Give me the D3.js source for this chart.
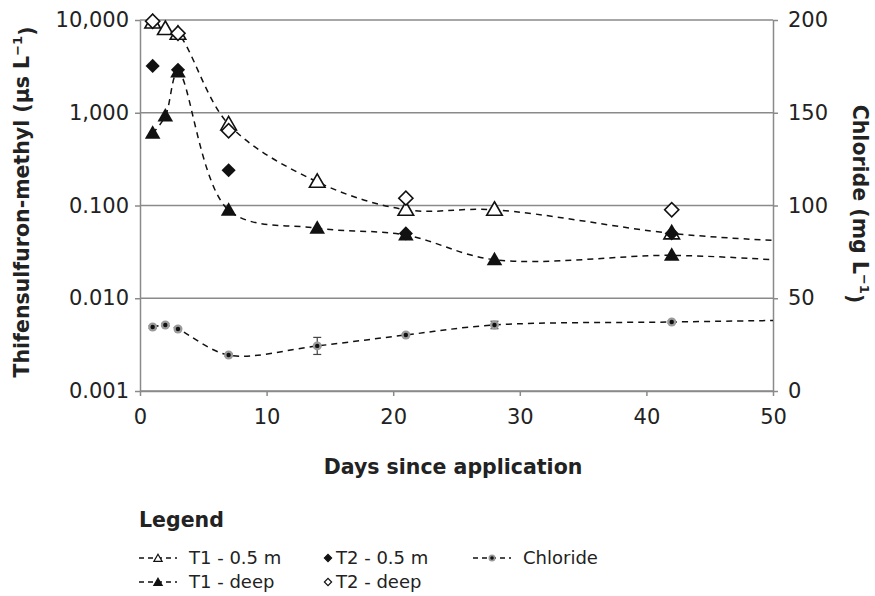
<!DOCTYPE html>
<html lang="en">
<head>
  <meta charset="UTF-8">
  <title>Thifensulfuron-methyl and chloride</title>
  <script src="https://d3js.org/d3.v7.min.js"></script>
  <style>
    body { margin: 0; background: #fff; }
    .chart text { font-family: "DejaVu Sans", sans-serif; fill: #222; }
    .tick text { font-size: 21px; }
    .title { font-weight: bold; font-size: 20.5px; }
    .legend-text { font-size: 18px; }
  </style>
</head>
<body>

<svg id="chart" class="chart" width="875" height="596"></svg>

<script>
  // Sampling days
  const days = [1, 2, 3, 7, 14, 21, 28, 42];

  // T1 series (µg/L, log axis) - both sampled every day
  const t1Shallow = [9.4, 8.0, 7.1, 0.75, 0.18, 0.09, 0.09, 0.05];
  const t1Deep = [0.6, 0.92, 2.75, 0.089, 0.057, 0.048, 0.026, 0.029];

  // T2 series, markers only
  const t2Days = [1, 3, 7, 21, 42];
  const t2Shallow = [3.2, 2.9, 0.24, 0.05, 0.05];
  const t2Deep = [9.7, 7.2, 0.64, 0.12, 0.09];

  // Chloride (mg/L, right axis) with error
  const chloride = [34.5, 35.6, 33.4, 19.4, 24.3, 30.2, 35.6, 37.2];
  const chlorideErr = [0.8, 0.8, 0.8, 0.8, 4.6, 0.8, 2.0, 0.8];

  // where the smoothed lines end (day 50)
  const tailDay = 50;
  const t1ShallowTail = 0.042;
  const t1DeepTail = 0.026;
  const chlorideTail = 38;

  // axis ticks
  const leftTicks = [0.001, 0.01, 0.1, 1, 10];
  const leftTickLabels = ["0.001", "0.010", "0.100", "1,000", "10,000"];
  const rightTicks = [0, 50, 100, 150, 200];
  const xTicks = [0, 10, 20, 30, 40, 50];

  const svg = d3.select("#chart");
  const plot = { left: 140, right: 773, top: 20, bottom: 391 };
  const gridColor = "#8a8a8a";

  const x = d3.scaleLinear().domain([0, 50]).range([plot.left, plot.right]);
  const yLog = d3.scaleLog().domain([0.001, 10]).range([plot.bottom, plot.top]);
  const yRight = d3.scaleLinear().domain([0, 200]).range([plot.bottom, plot.top]);

  // gridlines
  svg.append("g")
     .selectAll("line")
     .data(leftTicks)
     .join("line")
     .attr("x1", plot.left)
     .attr("x2", plot.right)
     .attr("y1", d => yLog(d))
     .attr("y2", d => yLog(d))
     .attr("stroke", gridColor)
     .attr("stroke-width", 1.5);

  // axes
  function styleAxis(g) {
    g.selectAll(".domain").attr("stroke", gridColor).attr("stroke-width", 1.5);
    g.selectAll(".tick line").attr("stroke", gridColor).attr("stroke-width", 1.5);
    g.selectAll(".tick text").attr("font-size", null).attr("font-family", null);
  }

  svg.append("g")
     .attr("transform", `translate(${plot.left},0)`)
     .call(d3.axisLeft(yLog).tickValues(leftTicks)
             .tickFormat((d, i) => leftTickLabels[i])
             .tickSize(5).tickSizeOuter(0).tickPadding(6))
     .call(styleAxis);

  svg.append("g")
     .attr("transform", `translate(${plot.right},0)`)
     .call(d3.axisRight(yRight).tickValues(rightTicks)
             .tickSize(5).tickSizeOuter(0).tickPadding(10))
     .call(styleAxis);

  svg.append("g")
     .attr("transform", `translate(0,${plot.bottom})`)
     .call(d3.axisBottom(x).tickValues(xTicks)
             .tickSize(5).tickSizeOuter(0).tickPadding(13))
     .call(styleAxis);

  // axis titles
  svg.append("text")
     .attr("class", "title")
     .attr("x", 453)
     .attr("y", 474)
     .attr("text-anchor", "middle")
     .text("Days since application");

  const leftTitle = svg.append("text")
     .attr("class", "title")
     .attr("transform", "translate(22,202) rotate(-90)")
     .attr("text-anchor", "middle")
     .attr("dy", "0.36em");
  leftTitle.append("tspan").text("Thifensulfuron-methyl (µs L");
  leftTitle.append("tspan").attr("font-size", "13px").attr("dy", "-0.6em").text("−1");
  leftTitle.append("tspan").attr("dy", "0.6em").text(")");

  const rightTitle = svg.append("text")
     .attr("class", "title")
     .attr("transform", "translate(860,204) rotate(90)")
     .attr("text-anchor", "middle")
     .attr("dy", "0.36em");
  rightTitle.append("tspan").text("Chloride (mg L");
  rightTitle.append("tspan").attr("font-size", "13px").attr("dy", "-0.6em").text("−1");
  rightTitle.append("tspan").attr("dy", "0.6em").text(")");

  // smoothed dashed lines
  const curve = d3.curveCatmullRom.alpha(0.5);
  const logLine = d3.line().curve(curve).x(d => x(d[0])).y(d => yLog(d[1]));
  const clLine = d3.line().curve(curve).x(d => x(d[0])).y(d => yRight(d[1]));

  const t1ShallowPts = days.map((d, i) => [d, t1Shallow[i]]).concat([[tailDay, t1ShallowTail]]);
  const t1DeepPts = days.map((d, i) => [d, t1Deep[i]]).concat([[tailDay, t1DeepTail]]);
  const clPts = days.map((d, i) => [d, chloride[i]]).concat([[tailDay, chlorideTail]]);

  [[t1ShallowPts, logLine], [t1DeepPts, logLine], [clPts, clLine]].forEach(([pts, gen]) => {
    svg.append("path")
       .attr("d", gen(pts))
       .attr("fill", "none")
       .attr("stroke", "#111")
       .attr("stroke-width", 1.5)
       .attr("stroke-dasharray", "6,5");
  });

  // markers
  const tri = d3.symbol().type(d3.symbolTriangle).size(105);
  const triSmall = d3.symbol().type(d3.symbolTriangle).size(30);
  const dia = d3.symbol().type(d3.symbolSquare).size(100);
  const diaSmall = d3.symbol().type(d3.symbolSquare).size(26);

  svg.append("g")
     .selectAll("path")
     .data(days.map((d, i) => [d, t1Shallow[i]]))
     .join("path")
     .attr("d", tri())
     .attr("transform", d => `translate(${x(d[0])},${yLog(d[1]) + 1})`)
     .attr("fill", "#fff")
     .attr("stroke", "#111")
     .attr("stroke-width", 1.6);

  svg.append("g")
     .selectAll("path")
     .data(days.map((d, i) => [d, t1Deep[i]]))
     .join("path")
     .attr("d", tri())
     .attr("transform", d => `translate(${x(d[0])},${yLog(d[1]) + 1})`)
     .attr("fill", "#111");

  svg.append("g")
     .selectAll("path")
     .data(t2Days.map((d, i) => [d, t2Shallow[i]]))
     .join("path")
     .attr("d", dia())
     .attr("transform", d => `translate(${x(d[0])},${yLog(d[1])}) rotate(45)`)
     .attr("fill", "#111");

  svg.append("g")
     .selectAll("path")
     .data(t2Days.map((d, i) => [d, t2Deep[i]]))
     .join("path")
     .attr("d", dia())
     .attr("transform", d => `translate(${x(d[0])},${yLog(d[1])}) rotate(45)`)
     .attr("fill", "#fff")
     .attr("stroke", "#111")
     .attr("stroke-width", 1.6);

  // chloride error bars + dots
  const errG = svg.append("g").attr("stroke", "#444").attr("stroke-width", 1.2);
  days.forEach((d, i) => {
    const cx = x(d), y1 = yRight(chloride[i] - chlorideErr[i]), y2 = yRight(chloride[i] + chlorideErr[i]);
    errG.append("line").attr("x1", cx).attr("x2", cx).attr("y1", y1).attr("y2", y2);
    errG.append("line").attr("x1", cx - 4).attr("x2", cx + 4).attr("y1", y1).attr("y2", y1);
    errG.append("line").attr("x1", cx - 4).attr("x2", cx + 4).attr("y1", y2).attr("y2", y2);
  });

  const clG = svg.append("g")
     .selectAll("g")
     .data(days.map((d, i) => [d, chloride[i]]))
     .join("g")
     .attr("transform", d => `translate(${x(d[0])},${yRight(d[1])})`);
  clG.append("circle").attr("r", 4.5).attr("fill", "#9a9a9a");
  clG.append("circle").attr("r", 2.2).attr("fill", "#111");

  // legend
  svg.append("text")
     .attr("class", "title")
     .attr("x", 139)
     .attr("y", 527)
     .text("Legend");

  const legendItems = [
    { name: "T1 - 0.5 m", col: 0, row: 0, line: true, mark: "triOpen" },
    { name: "T1 - deep", col: 0, row: 1, line: true, mark: "triFill" },
    { name: "T2 - 0.5 m", col: 1, row: 0, line: false, mark: "diaFill" },
    { name: "T2 - deep", col: 1, row: 1, line: false, mark: "diaOpen" },
    { name: "Chloride", col: 2, row: 0, line: true, mark: "dot" }
  ];
  const colX = [139, 322, 473];
  const rowY = [564, 588];

  legendItems.forEach(item => {
    const g = svg.append("g")
       .attr("transform", `translate(${colX[item.col]},${rowY[item.row]})`);
    let mx;
    if (item.line) {
      g.append("line")
         .attr("x1", 0).attr("x2", 38)
         .attr("y1", -6).attr("y2", -6)
         .attr("stroke", "#111")
         .attr("stroke-width", 1.3)
         .attr("stroke-dasharray", "5,4");
      mx = 19;
    } else {
      mx = 6;
    }
    if (item.mark === "triOpen" || item.mark === "triFill") {
      g.append("path").attr("d", triSmall())
         .attr("transform", `translate(${mx},-5)`)
         .attr("fill", item.mark === "triOpen" ? "#fff" : "#111")
         .attr("stroke", "#111").attr("stroke-width", 1.2);
    } else if (item.mark === "diaFill" || item.mark === "diaOpen") {
      g.append("path").attr("d", diaSmall())
         .attr("transform", `translate(${mx},-6) rotate(45)`)
         .attr("fill", item.mark === "diaOpen" ? "#fff" : "#111")
         .attr("stroke", "#111").attr("stroke-width", 1.2);
    } else {
      g.append("circle").attr("cx", mx).attr("cy", -6).attr("r", 3.5).attr("fill", "#9a9a9a");
      g.append("circle").attr("cx", mx).attr("cy", -6).attr("r", 1.8).attr("fill", "#111");
    }
    g.append("text")
       .attr("class", "legend-text")
       .attr("x", item.line ? 50 : 14)
       .attr("y", 0)
       .text(item.name);
  });
</script>
</body>
</html>
